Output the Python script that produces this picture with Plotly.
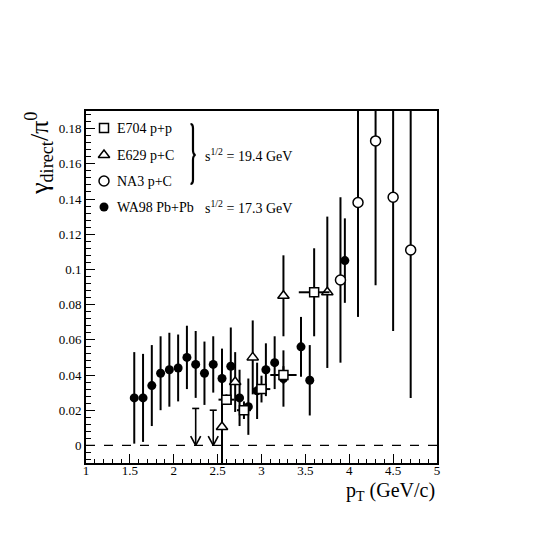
import plotly.graph_objects as go

# WA98 Pb+Pb, sqrt(s) = 17.3 GeV
wa98_pt = [1.55, 1.65, 1.75, 1.85, 1.95, 2.05, 2.15, 2.25, 2.35, 2.45, 2.55,
           2.65, 2.75, 2.85, 2.95, 3.05, 3.15, 3.25, 3.45, 3.55, 3.95]
wa98_ratio = [0.027, 0.027, 0.034, 0.041, 0.043, 0.044, 0.050, 0.046, 0.041, 0.046, 0.038,
              0.045, 0.027, 0.022, 0.031, 0.043, 0.047, 0.038, 0.056, 0.037, 0.105]
wa98_err = [0.026, 0.025, 0.023, 0.021, 0.021, 0.019, 0.018, 0.019, 0.018, 0.016, 0.017,
            0.022, 0.016, 0.016, 0.016, 0.015, 0.015, 0.016, 0.017, 0.020, 0.024]

# WA98 upper limits
limit_pt = [2.25, 2.45]
limit_ratio = [0.021, 0.020]

# E704 p+p
e704_pt = [2.6, 2.8, 3.0, 3.25, 3.6]
e704_ratio = [0.026, 0.020, 0.032, 0.040, 0.087]
e704_pt_err = [0.09, 0.08, 0.1, 0.15, 0.175]
e704_err = [0.003, 0.005, 0.0076, 0.005, 0.025]

# E629 p+C
e629_pt = [2.55, 2.7, 2.9, 3.25, 3.75]
e629_ratio = [0.0105, 0.036, 0.050, 0.085, 0.087]
e629_err = [0.026, 0.017, 0.021, 0.023, 0.043]

# NA3 p+C
na3_pt = [3.9, 4.1, 4.3, 4.5, 4.7]
na3_ratio = [0.094, 0.138, 0.173, 0.141, 0.111]
na3_err = [0.047, 0.065, 0.082, 0.076, 0.084]

x_ticks = [1, 1.5, 2, 2.5, 3, 3.5, 4, 4.5, 5]
x_ticktext = ["1", "1.5", "2", "2.5", "3", "3.5", "4", "4.5", "5"]
y_ticks = [0, 0.02, 0.04, 0.06, 0.08, 0.1, 0.12, 0.14, 0.16, 0.18]
y_ticktext = ["0", "0.02", "0.04", "0.06", "0.08", "0.1", "0.12", "0.14", "0.16", "0.18"]

FONT = "Liberation Serif, Times New Roman, serif"
WIDTH = HEIGHT = 551
PAGE_OFFSET = 8  # body margin of the html page
# frame of the plot, in page pixels
LEFT, RIGHT, TOP, BOTTOM = 86, 437, 111, 463


def px(x, y):
    """page pixel position -> paper coordinates"""
    return (x - LEFT) / (RIGHT - LEFT), (BOTTOM - y) / (BOTTOM - TOP)


def err_bar(values):
    return dict(type="data", array=values, visible=True, color="black",
                thickness=2, width=0)


fig = go.Figure()

fig.add_hline(y=0, line=dict(color="black", width=1.3, dash="dash"))

fig.add_trace(go.Scatter(
    x=wa98_pt, y=wa98_ratio, mode="markers", error_y=err_bar(wa98_err),
    marker=dict(symbol="circle", size=9, color="black"),
))

# upper limits: line with a cap on top and an open arrow head at zero
lx, ly = [], []
for pt, lim in zip(limit_pt, limit_ratio):
    lx += [pt, pt, None, pt - 0.04, pt + 0.04, None,
           pt - 0.057, pt, pt + 0.057, None]
    ly += [lim, 0, None, lim, lim, None, 0.0053, 0, 0.0053, None]
fig.add_trace(go.Scatter(x=lx, y=ly, mode="lines",
                         line=dict(color="black", width=1.6)))

fig.add_trace(go.Scatter(
    x=e629_pt, y=e629_ratio, mode="markers", error_y=err_bar(e629_err),
    marker=dict(symbol="triangle-up", size=10, color="white",
                line=dict(color="black", width=1.5)),
))
fig.add_trace(go.Scatter(
    x=e704_pt, y=e704_ratio, mode="markers",
    error_x=err_bar(e704_pt_err), error_y=err_bar(e704_err),
    marker=dict(symbol="square", size=9, color="white",
                line=dict(color="black", width=1.5)),
))
fig.add_trace(go.Scatter(
    x=na3_pt, y=na3_ratio, mode="markers", error_y=err_bar(na3_err),
    marker=dict(symbol="circle", size=10, color="white",
                line=dict(color="black", width=1.5)),
))

# legend drawn on a hidden overlay axis in paper units
legend_labels = ["E704 p+p", "E629 p+C", "NA3 p+C", "WA98 Pb+Pb"]
legend_rows = [128, 155, 181, 207]
legend_styles = [
    dict(symbol="square", size=9, color="white", line=dict(color="black", width=1.5)),
    dict(symbol="triangle-up", size=10, color="white", line=dict(color="black", width=1.5)),
    dict(symbol="circle", size=10, color="white", line=dict(color="black", width=1.5)),
    dict(symbol="circle", size=9, color="black"),
]
for label, row, style in zip(legend_labels, legend_rows, legend_styles):
    mx, my = px(104, row)
    fig.add_trace(go.Scatter(x=[mx], y=[my], mode="markers", marker=style,
                             xaxis="x2", yaxis="y2", cliponaxis=False))
    tx, ty = px(115, row)
    fig.add_annotation(x=tx, y=ty, xref="paper", yref="paper", text=label,
                       showarrow=False, xanchor="left", yanchor="middle",
                       font=dict(family=FONT, size=14, color="black"))

for text, row in [("s<sup>1/2</sup> = 19.4 GeV", 155), ("s<sup>1/2</sup> = 17.3 GeV", 207)]:
    tx, ty = px(203, row)
    fig.add_annotation(x=tx, y=ty, xref="paper", yref="paper", text=text,
                       showarrow=False, xanchor="left", yanchor="middle",
                       font=dict(family=FONT, size=14, color="black"))

# curly brace grouping the p+p / p+A data
brace = [(190.5, 124), "Q", (193, 124), (193, 128), "L", (193, 150), "Q",
         (193, 154.5), (195.5, 155), "Q", (193, 155.5), (193, 160), "L",
         (193, 180), "Q", (193, 184), (190.5, 184)]
path = ""
for item in brace:
    if isinstance(item, str):
        path += " " + item
    else:
        bx, by = px(*item)
        path += f" {bx:.4f},{by:.4f}"
path = "M" + path
fig.add_shape(type="path", path=path, xref="paper", yref="paper",
              line=dict(color="black", width=2.2))

ax, ay = px(39, 154)
fig.add_annotation(x=ax, y=ay, xref="paper", yref="paper", textangle=-90,
                   xanchor="center", yanchor="middle",
                   text="γ<sub>direct</sub>/π<sup>0</sup>", showarrow=False,
                   font=dict(family=FONT, size=26, color="black"))
bx, by = px(437, 491)
fig.add_annotation(x=bx, y=by, xref="paper", yref="paper", xanchor="right",
                   yanchor="middle",
                   text="p<sub>T</sub> (GeV/c)", showarrow=False,
                   font=dict(family=FONT, size=20, color="black"))

axis_common = dict(
    ticks="inside", showline=True, linewidth=2, linecolor="black", mirror=True,
    showgrid=False, zeroline=False, tickcolor="black", tickwidth=1,
    tickfont=dict(family=FONT, size=13, color="black"), tickmode="array",
)
fig.update_layout(
    width=WIDTH, height=HEIGHT,
    font=dict(family=FONT, color="black"),
    margin=dict(l=LEFT - PAGE_OFFSET, r=WIDTH - RIGHT + PAGE_OFFSET,
                t=TOP - PAGE_OFFSET, b=HEIGHT - BOTTOM + PAGE_OFFSET),
    paper_bgcolor="white", plot_bgcolor="white", showlegend=False,
    xaxis=dict(range=[1, 5], tickvals=x_ticks, ticktext=x_ticktext, ticklen=9,
               ticklabelstandoff=-6,
               minor=dict(ticks="inside", ticklen=4.5, tick0=1, dtick=0.1,
                          tickcolor="black", showgrid=False),
               **axis_common),
    yaxis=dict(range=[-0.01, 0.19], tickvals=y_ticks, ticktext=y_ticktext, ticklen=9,
               minor=dict(ticks="inside", ticklen=4.5, tick0=0, dtick=0.004,
                          tickcolor="black", showgrid=False),
               **axis_common),
    xaxis2=dict(range=[0, 1], overlaying="x", visible=False, fixedrange=True),
    yaxis2=dict(range=[0, 1], overlaying="y", visible=False, fixedrange=True),
)

fig.write_html("out.html")
